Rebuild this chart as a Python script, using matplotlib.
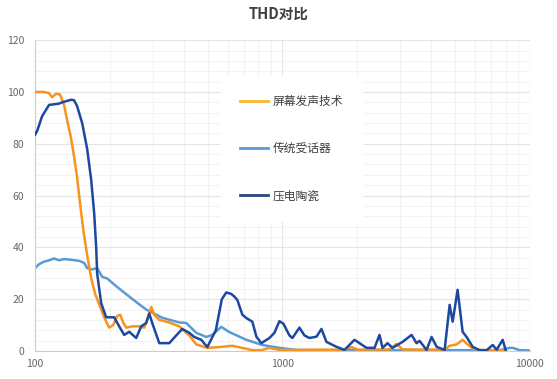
import numpy as np
import matplotlib
matplotlib.use("Agg")
import matplotlib.pyplot as plt
from matplotlib.lines import Line2D
from matplotlib.ticker import FixedLocator, NullFormatter, MultipleLocator

plt.rcParams['font.family'] = ['Noto Sans CJK SC', 'DejaVu Sans']

title = "THD对比"
labels = ["屏幕发声技术", "传统受话器", "压电陶瓷"]

# 屏幕发声技术 (frequency Hz, THD %)
screen_f = [100, 108.8, 113.9, 117.2, 121.6, 126.2, 131, 134.8, 139.9, 143.8,
            147.9, 150.7, 156.5, 162.4, 168.6, 175, 181.6, 190.2, 199.3, 206.9,
            214.8, 220.9, 227.1, 233.6, 247, 263.7, 276.2, 286.7, 294.9, 303.2,
            317.8, 348.7, 382.8, 420.2, 448.6, 497, 555.8, 627.5, 702, 756,
            822, 886, 972.5, 1171.7, 1782, 1902.6, 2012, 2712, 2894, 3060,
            4529, 4745, 5063, 5355, 5610, 5877, 6276, 7995]
screen_v = [100, 100, 99.5, 98, 99.3, 99, 95, 89, 82, 75,
            67, 60, 47, 37, 28, 22, 18, 13, 9, 10,
            13.5, 14, 11, 9, 9.5, 9.5, 9, 13, 17, 14,
            12, 11, 9.5, 6, 2.5, 1.2, 1.5, 2, 1, 0.3,
            0.3, 1.2, 0.4, 0.4, 0.5, 1.5, 0.5, 0.6, 2.7, 0.6,
            0.5, 2, 2.5, 4.3, 2.5, 1, 0.3, 0.3]

# 传统受话器
recv_f = [100, 103.8, 108.8, 113.9, 119.4, 125.1, 131, 139.9, 150.7, 157.9,
          162.4, 170.2, 178.2, 186.8, 195.6, 212.8, 240.2, 263.7, 281.4, 326.8,
          382.8, 408.6, 448.6, 492.4, 520.7, 566.2, 610.1, 715, 829.9, 972.5,
          1139.3, 1867.5, 7562, 8299, 8535, 9111, 10000]
recv_v = [32, 33.5, 34.5, 35, 35.7, 35, 35.5, 35.2, 34.8, 34,
          32, 31.5, 32, 28.6, 28, 25, 21, 18, 16, 12.8,
          11, 10.8, 7, 5.4, 6.2, 9.3, 7.3, 4.3, 2.3, 1.2,
          0.4, 0.3, 0.3, 1.2, 1.2, 0.3, 0.2]

# 压电陶瓷
piezo_f = [100, 102, 106.7, 113.9, 125.1, 128.6, 139.9, 143.8, 147.9, 155,
           162.4, 168.6, 173.4, 176.6, 178.2, 185, 193.8, 208.8, 218.8, 229.2,
           240.2, 256.4, 268.6, 281.4, 289.4, 297.6, 317.8, 348.7, 372.3, 393.7,
           420.2, 440.3, 469.9, 497, 538, 569, 593.3, 621.6, 639.3, 657.4,
           688.8, 715, 756, 785, 822, 886, 928.3, 972.5, 1010, 1067.3,
           1097.6, 1171.7, 1227.6, 1286.2, 1373.3, 1438.2, 1507, 1654.4, 1782.4, 1956.4,
           2188.4, 2357.6, 2469.9, 2540, 2661, 2788, 3060, 3330, 3487, 3586,
           3828, 4011, 4203, 4529, 4745, 4880, 5110, 5355, 5557, 5877,
           6276, 6699, 7083, 7353, 7775, 7995]
piezo_v = [83.5, 85, 90.6, 95, 95.5, 96, 97, 96.8, 94.5, 88,
           78, 66, 53, 40, 30, 18.5, 13, 13, 9.5, 6.2,
           7.4, 5, 9.5, 10.8, 14.5, 10.8, 3, 3, 6, 8.5,
           7, 5.4, 4.3, 1.5, 8, 20, 22.6, 22, 21, 19.7,
           14, 12.7, 11.3, 5.5, 3, 5, 7, 11.5, 10.5, 6,
           5, 9, 6, 5, 5.5, 8.5, 3.5, 1.6, 0.4, 4.3,
           1.2, 1.2, 6.2, 1.2, 3, 1.2, 3.5, 6.2, 3, 3.9,
           0.4, 5.4, 1.6, 0.4, 17.8, 11.3, 23.6, 7.4, 5.4, 1.6,
           0.3, 0.3, 2.3, 0.5, 4.3, 0.3]

colors = ["#F7931E", "#5B9BD5", "#1C48A0"]
legend_colors = ["#F9B72A", "#5B9BD5", "#26487E"]

fig = plt.figure(figsize=(5.57, 3.79), dpi=100)
ax = fig.add_axes([0.063, 0.074, 0.888, 0.820])

ax.plot(screen_f, screen_v, color=colors[0], lw=1.8, zorder=3)
ax.plot(recv_f, recv_v, color=colors[1], lw=1.8, zorder=2)
ax.plot(piezo_f, piezo_v, color=colors[2], lw=1.8, zorder=4)

ax.set_xscale('log')
ax.set_xlim(100, 10000)
ax.set_ylim(0, 120)
ax.xaxis.set_major_locator(FixedLocator([100, 1000, 10000]))
ax.xaxis.set_minor_locator(FixedLocator([m * 10 ** e for e in (2, 3) for m in range(2, 10)]))
ax.xaxis.set_minor_formatter(NullFormatter())
ax.set_xticklabels(["100", "1000", "10000"])
ax.yaxis.set_major_locator(MultipleLocator(20))
ax.yaxis.set_minor_locator(MultipleLocator(4))

ax.grid(which='major', color='#e4e4e4', lw=0.8)
ax.grid(which='minor', color='#f3f3f3', lw=0.8)
ax.set_axisbelow(True)
ax.tick_params(which='both', length=0, labelsize=7.5, labelcolor='#666666')
ax.tick_params(axis='x', pad=6)
ax.tick_params(axis='y', pad=8)
for s in ['top', 'right']:
    ax.spines[s].set_visible(False)
for s in ['left', 'bottom']:
    ax.spines[s].set_color('#cccccc')
    ax.spines[s].set_linewidth(0.8)

fig.text(0.5, 0.963, title, ha='center', va='center', fontsize=10.5,
         fontweight='bold', color='#404040')

handles = [Line2D([], [], color=c, lw=2) for c in legend_colors]
leg = ax.legend(handles, labels, loc='upper left', bbox_to_anchor=(0.376, 0.885),
                frameon=True, fontsize=8.5, labelspacing=2.9, handlelength=2.4,
                handletextpad=0.4, borderpad=1.6, borderaxespad=0)
leg.get_frame().set_facecolor('white')
leg.get_frame().set_edgecolor('white')
leg.get_frame().set_alpha(1)
leg.get_frame().set_boxstyle('square', pad=0)
for t in leg.get_texts():
    t.set_color('#404040')

fig.savefig("out.png", dpi=100)
